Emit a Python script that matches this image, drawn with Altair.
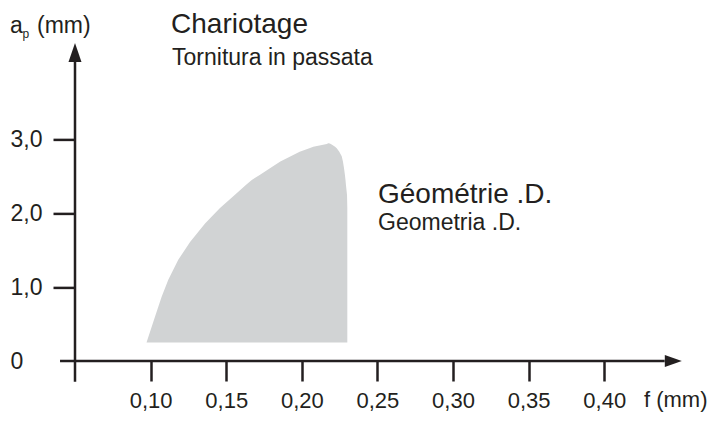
import altair as alt
import pandas as pd

# ---- data ----
f_ticks = [0.10, 0.15, 0.20, 0.25, 0.30, 0.35, 0.40]
ap_ticks = [0, 1, 2, 3]

# Grey working region of geometry .D. (depth of cut a_p vs feed f)
region_ap = [0.25, 0.60, 0.87, 1.10, 1.37, 1.61, 1.86, 2.07, 2.25, 2.38, 2.45,
             2.52, 2.61, 2.70, 2.77, 2.83, 2.88, 2.90, 2.92, 2.936, 2.946]
region_f_left = [0.0973, 0.1029, 0.1073, 0.1117, 0.1183, 0.1261, 0.1360, 0.1459,
                 0.1558, 0.1630, 0.1669, 0.1724, 0.1792, 0.1858, 0.1927, 0.1986,
                 0.2050, 0.2076, 0.2125, 0.2165, 0.2175]
region_f_right = [0.2301, 0.2301, 0.2301, 0.2301, 0.2301, 0.2301, 0.2301, 0.2301,
                  0.2299, 0.2292, 0.2289, 0.2285, 0.2279, 0.2272, 0.2264, 0.2248,
                  0.2231, 0.2220, 0.2205, 0.2192, 0.2180]

big_text = ["Chariotage", "Géométrie .D."]
small_text = ["Tornitura in passata", "Geometria .D."]

# ---- styling ----
INK = "#231f20"
GREY = "#d1d3d4"
FONT = "Liberation Sans, Arial, Helvetica, sans-serif"

XS = alt.Scale(domain=[0.05, 0.45], nice=False, zero=False)
YS = alt.Scale(domain=[0, 4], nice=False, zero=False)

XA = alt.Axis(
    values=f_ticks, title=None, domain=False, grid=False,
    tickSize=20, tickWidth=2.5, tickColor=INK,
    labelFont=FONT, labelFontSize=22, labelColor=INK,
    labelBaseline="alphabetic", labelPadding=26, labelOverlap=False,
    labelFlush=False,
    labelExpr="replace(format(datum.value, '.2f'), '.', ',')",
)
YA = alt.Axis(
    values=ap_ticks, title=None, domain=False, grid=False,
    tickSize=22, tickWidth=2.5, tickColor=INK,
    tickOpacity={"condition": {"test": "datum.value == 0", "value": 0}, "value": 1},
    labelFont=FONT, labelFontSize=23, labelColor=INK,
    labelAlign="left", labelBaseline="middle", labelPadding=43,
    labelOverlap=False,
    labelExpr="datum.value == 0 ? '0' : replace(format(datum.value, '.1f'), '.', ',')",
)


def X(field):
    return alt.X(field, type="quantitative", scale=XS, axis=XA)


def Y(field):
    return alt.Y(field, type="quantitative", scale=YS, axis=YA)


region = pd.DataFrame({"ap": region_ap, "fl": region_f_left, "fr": region_f_right})
area = alt.Chart(region).mark_area(orient="horizontal", color=GREY, opacity=1).encode(
    y=Y("ap"), x=X("fl"), x2="fr"
)

axis_lines = pd.DataFrame({"x1": [0.0401, 0.05], "x2": [0.44, 0.05],
                           "y1": [0.0, -0.28], "y2": [0.0, 4.05]})
rules = alt.Chart(axis_lines).mark_rule(color=INK, strokeWidth=2.5).encode(
    x=X("x1"), x2="x2", y=Y("y1"), y2="y2"
)

up_arrow = alt.Chart(pd.DataFrame({"f": [0.05], "a": [4.175]})).mark_point(
    shape="M0,-1L0.684,1L-0.684,1Z", size=361, filled=True, color=INK, opacity=1,
    strokeWidth=0
).encode(x=X("f"), y=Y("a"))

right_arrow = alt.Chart(pd.DataFrame({"f": [0.4457], "a": [0.0]})).mark_point(
    shape="M1,0L-1,0.706L-1,-0.706Z", size=289, filled=True, color=INK, opacity=1,
    strokeWidth=0
).encode(x=X("f"), y=Y("a"))

big = alt.Chart(pd.DataFrame({"t": big_text, "f": [0.1135, 0.2504], "a": [4.432, 2.138]})).mark_text(
    align="left", baseline="alphabetic", font=FONT, fontSize=28, color=INK
).encode(x=X("f"), y=Y("a"), text="t:N")

small = alt.Chart(pd.DataFrame({"t": small_text, "f": [0.1142, 0.2504], "a": [3.999, 1.773]})).mark_text(
    align="left", baseline="alphabetic", font=FONT, fontSize=23, color=INK
).encode(x=X("f"), y=Y("a"), text="t:N")

axis_titles = alt.Chart(pd.DataFrame({"t": ["a", "(mm)"],
                                      "f": [0.0070, 0.0249],
                                      "a": [4.438, 4.438]})).mark_text(
    align="left", baseline="alphabetic", font=FONT, fontSize=23, color=INK
).encode(x=X("f"), y=Y("a"), text="t:N")

f_title = alt.Chart(pd.DataFrame({"t": ["f (mm)"], "f": [0.4263], "a": [-0.622]})).mark_text(
    align="left", baseline="alphabetic", font=FONT, fontSize=22, color=INK
).encode(x=X("f"), y=Y("a"), text="t:N")

subscript = alt.Chart(pd.DataFrame({"t": ["p"], "f": [0.0153], "a": [4.371]})).mark_text(
    align="left", baseline="alphabetic", font=FONT, fontSize=12, color=INK
).encode(x=X("f"), y=Y("a"), text="t:N")

chart = alt.layer(area, rules, up_arrow, right_arrow, big, small, axis_titles,
                  f_title, subscript).properties(
    width=604.8, height=295.6,
    padding={"left": 67, "top": 57.4, "right": 29.2, "bottom": 52},
    autosize=alt.AutoSizeParams(type="none"),
    background="white",
).configure_view(strokeWidth=0, stroke="transparent")

chart.save("out.html", embed_options={"renderer": "svg", "actions": False})
